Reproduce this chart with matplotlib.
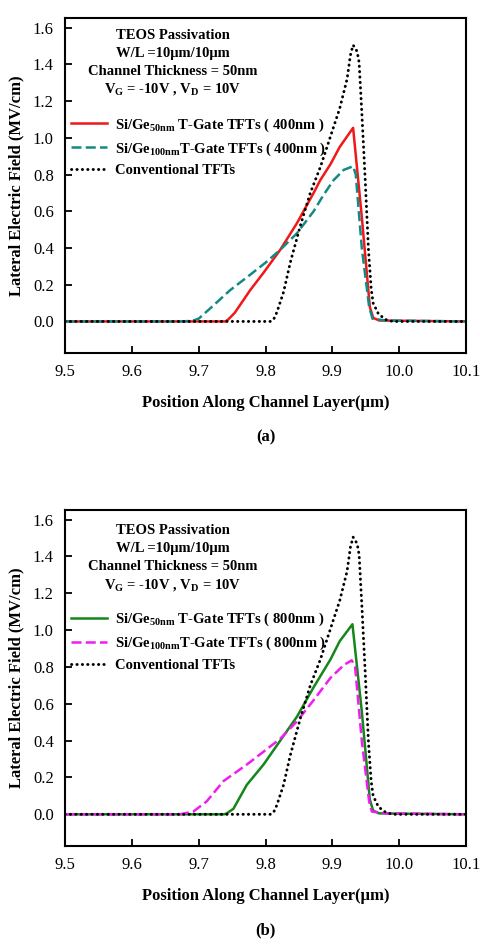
import numpy as np
import matplotlib
matplotlib.use("Agg")
import matplotlib.pyplot as plt

# ===============================
# 1. Data
# ===============================
# conventional TFTs (same curve in both panels)
conv_x = [9.50, 9.807, 9.812, 9.817, 9.827, 9.837, 9.852, 9.867, 9.882, 9.892, 9.901,
          9.911, 9.922, 9.927, 9.931, 9.937, 9.940, 9.944, 9.949, 9.954, 9.958, 9.961,
          9.969, 9.98, 9.99, 10.10]
conv_y = [0.0, 0.0, 0.01, 0.05, 0.16, 0.32, 0.52, 0.70, 0.84, 0.95, 1.05,
          1.16, 1.32, 1.45, 1.505, 1.47, 1.41, 1.14, 0.78, 0.39, 0.18, 0.10,
          0.04, 0.01, 0.0, 0.0]

# (a) 400nm T-gate
a50_x = [9.50, 9.740, 9.744, 9.754, 9.777, 9.797, 9.822, 9.847, 9.872, 9.882, 9.897,
         9.911, 9.931, 9.944, 9.956, 9.961, 9.970, 10.10]
a50_y = [0.0, 0.0, 0.01, 0.047, 0.17, 0.265, 0.39, 0.535, 0.70, 0.77, 0.855,
         0.95, 1.054, 0.57, 0.08, 0.02, 0.005, 0.0]

a100_x = [9.50, 9.672, 9.690, 9.700, 9.720, 9.747, 9.772, 9.800, 9.822, 9.847, 9.872,
          9.887, 9.902, 9.917, 9.931, 9.935, 9.944, 9.955, 9.960, 9.980, 10.10]
a100_y = [0.0, 0.0, 0.003, 0.015, 0.08, 0.17, 0.24, 0.32, 0.39, 0.48, 0.60,
          0.69, 0.77, 0.825, 0.845, 0.80, 0.40, 0.08, 0.015, 0.005, 0.0]

# (b) 800nm T-gate
b50_x = [9.50, 9.738, 9.742, 9.752, 9.772, 9.797, 9.822, 9.847, 9.872, 9.897, 9.911,
         9.930, 9.944, 9.956, 9.961, 9.970, 10.10]
b50_y = [0.0, 0.0, 0.005, 0.03, 0.16, 0.27, 0.40, 0.53, 0.69, 0.84, 0.94,
         1.032, 0.56, 0.08, 0.02, 0.005, 0.0]

b100_x = [9.50, 9.672, 9.692, 9.712, 9.737, 9.772, 9.822, 9.847, 9.872, 9.897, 9.917,
          9.929, 9.934, 9.944, 9.955, 9.959, 9.980, 10.10]
b100_y = [0.0, 0.0, 0.015, 0.07, 0.18, 0.27, 0.41, 0.505, 0.62, 0.74, 0.81,
          0.836, 0.80, 0.40, 0.07, 0.015, 0.005, 0.0]

x_ticks = [9.5, 9.6, 9.7, 9.8, 9.9, 10.0, 10.1]
y_ticks = [0.0, 0.2, 0.4, 0.6, 0.8, 1.0, 1.2, 1.4, 1.6]

info_lines = ["TEOS Passivation",
              "W/L =10μm/10μm",
              "Channel Thickness = 50nm",
              r"V$_\mathregular{G}$ = -10V , V$_\mathregular{D}$ = 10V"]

# ===============================
# 2. Style
# ===============================
plt.rcParams["font.family"] = ["Liberation Serif", "DejaVu Serif"]
plt.rcParams["mathtext.fontset"] = "custom"
plt.rcParams["mathtext.rm"] = "Liberation Serif:bold"
plt.rcParams["mathtext.bf"] = "Liberation Serif:bold"

dot_style = (0, (0.1, 1.75))


def draw_panel(ax, s50, s100, lab, info_y, leg_y):
    ax.plot(s50[0], s50[1], color=s50[2], lw=1.8, label=s50[3])
    ax.plot(s100[0], s100[1], color=s100[2], lw=1.8, dashes=(4.0, 1.7), label=s100[3])
    ax.plot(conv_x, conv_y, color="black", lw=2.1, linestyle=dot_style,
            dash_capstyle="round", label="Conventional TFTs")

    ax.set_xlim(9.5, 10.1)
    ax.set_ylim(-0.172, 1.652)
    ax.set_xticks(x_ticks)
    ax.set_xticklabels([f"{v:.1f}" for v in x_ticks])
    ax.set_yticks(y_ticks)
    ax.set_yticklabels([f"{v:.1f}" for v in y_ticks])
    ax.tick_params(direction="in", length=5, width=1.3, labelsize=12, pad=8)
    for sp in ax.spines.values():
        sp.set_linewidth(1.5)

    ax.set_ylabel("Lateral Electric Field (MV/cm)", fontsize=12, fontweight="bold", labelpad=6)
    ax.set_xlabel("Position Along Channel Layer(μm)", fontsize=12, fontweight="bold", labelpad=11)
    ax.text(0.5, -0.252, lab, transform=ax.transAxes, ha="center", va="center",
            fontsize=12, fontweight="bold")

    for line, yy in zip(info_lines, info_y):
        ax.text(0.268, yy, line, transform=ax.transAxes, ha="center", va="center",
                fontsize=10.5, fontweight="bold")

    ax.legend(loc="upper left", bbox_to_anchor=(0.0, leg_y), frameon=False,
              prop={"size": 10.5, "weight": "bold"}, handlelength=2.5,
              handletextpad=0.55, labelspacing=0.45, borderaxespad=0.0)


# ===============================
# 3. Figure
# ===============================
fig = plt.figure(figsize=(4.81, 9.48), dpi=100)
ax1 = fig.add_axes([0.135, 0.6276, 0.834, 0.3534])
ax2 = fig.add_axes([0.135, 0.1076, 0.834, 0.3544])

draw_panel(ax1,
           (a50_x, a50_y, "#f01818", r"Si/Ge$_\mathregular{50nm}$ T-Gate TFTs ( 400nm )"),
           (a100_x, a100_y, "#138a84", r"Si/Ge$_\mathregular{100nm}$T-Gate TFTs ( 400nm )"),
           "(a)", [0.949, 0.893, 0.839, 0.785], 0.724)
draw_panel(ax2,
           (b50_x, b50_y, "#14861a", r"Si/Ge$_\mathregular{50nm}$ T-Gate TFTs ( 800nm )"),
           (b100_x, b100_y, "#f01cf0", r"Si/Ge$_\mathregular{100nm}$T-Gate TFTs ( 800nm )"),
           "(b)", [0.940, 0.886, 0.831, 0.774], 0.718)

fig.savefig("out.png", dpi=100)
